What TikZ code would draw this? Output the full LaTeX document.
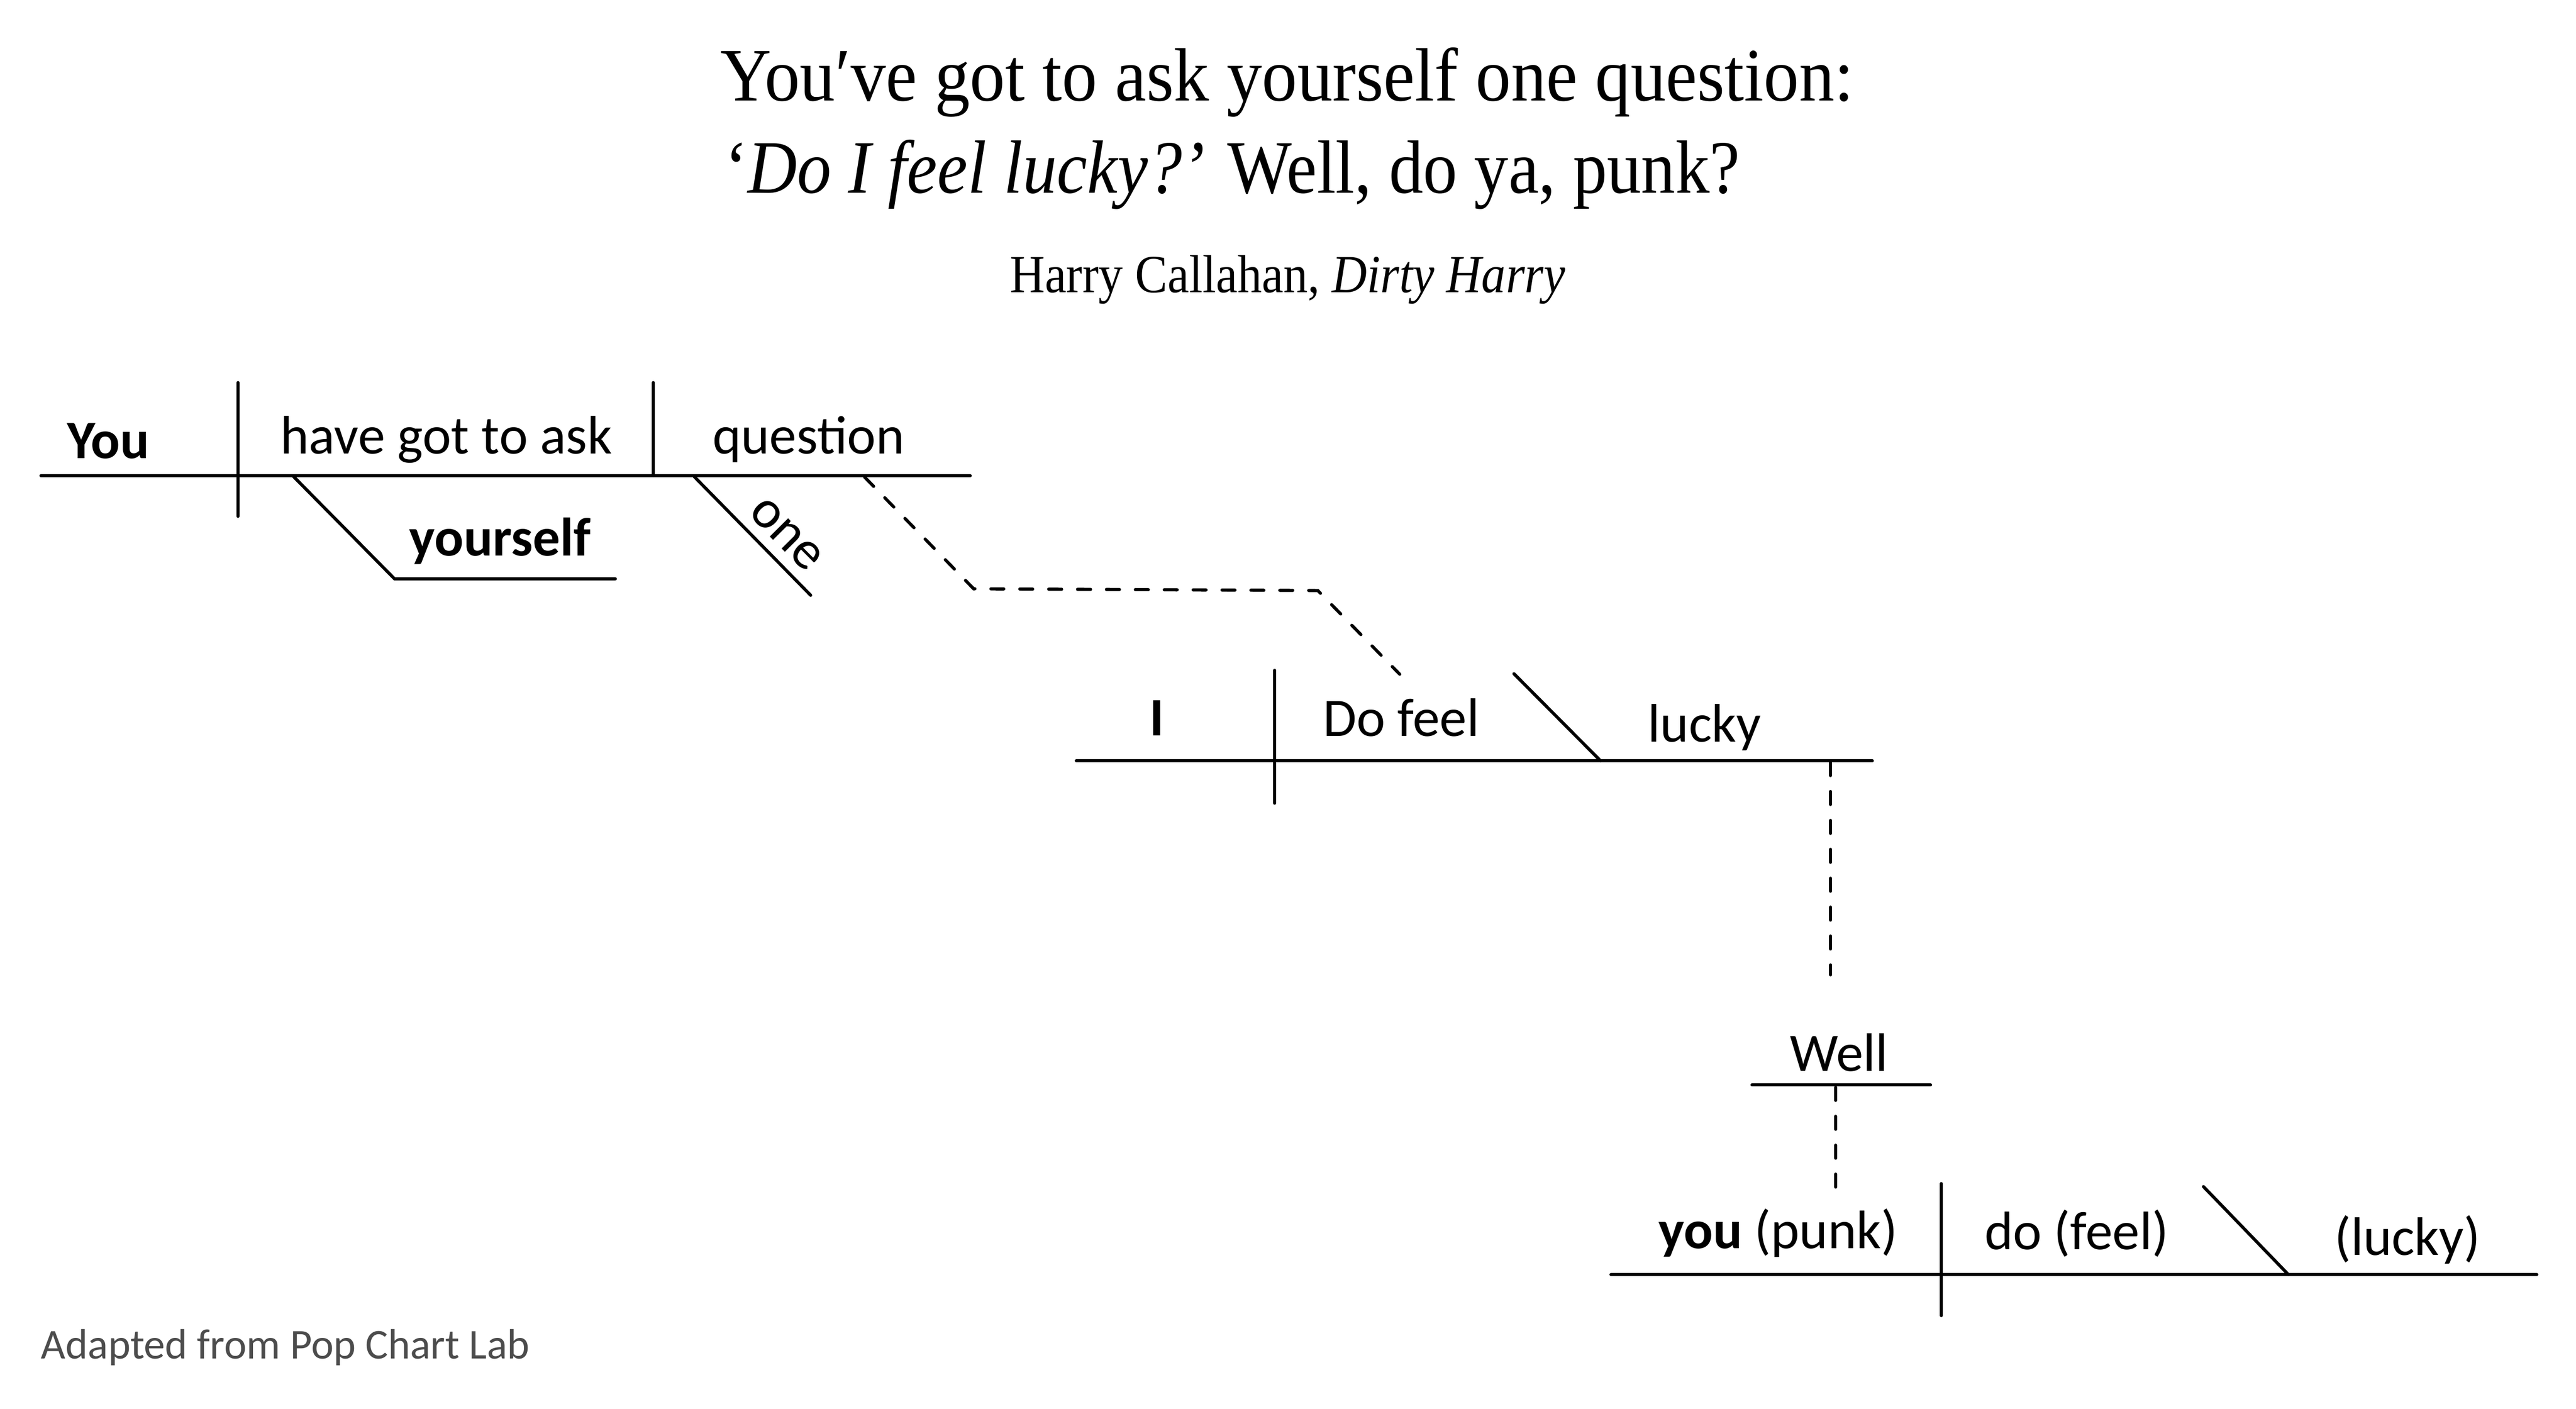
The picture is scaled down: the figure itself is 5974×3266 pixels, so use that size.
\documentclass[tikz,border=0pt]{standalone}
\usepackage{fontspec}
\newfontfamily\titlefontA{Liberation Serif}[FakeStretch=0.935]
\newfontfamily\titlefontB{Liberation Serif}[FakeStretch=0.905]
\newfontfamily\lblfont{Carlito}
\begin{document}
\begin{tikzpicture}[x=0.05mm,y=-0.05mm,
  rule/.style={draw, line width=0.365mm, line cap=round},
  dashline/.style={rule, dash pattern=on 1.5mm off 1.85mm},
  lbl/.style={inner sep=0, anchor=base, font=\lblfont\fontsize{17.9pt}{20pt}\selectfont},
  ttla/.style={inner sep=0, font=\titlefontA\fontsize{24.9pt}{28pt}\selectfont},
  ttlb/.style={inner sep=0, font=\titlefontB\fontsize{24.9pt}{28pt}\selectfont},
  ttlsmall/.style={inner sep=0, font=\titlefontB\fontsize{17.7pt}{20pt}\selectfont},
  foot/.style={inner sep=0, text=black!70, font=\lblfont\fontsize{14.0pt}{16pt}\selectfont}]
\fill[white] (0,0) rectangle (5974,3266);
\useasboundingbox (0,0) rectangle (5974,3266);

% ---------- title ----------
\node[ttla, anchor=base west] (t1) at (1670,234) {You′ve got to ask yourself one question:};
\node[ttlb, anchor=base west] (t2) at (1680,447) {‘\textit{Do I feel lucky?’} Well, do ya, punk?};
\node[ttlsmall, anchor=base] (t3) at (2986,678) {Harry Callahan, \textit{Dirty Harry}};

% ---------- clause 1 ----------
\coordinate (b1s) at (95,1103);
\coordinate (b1e) at (2250,1103);
\coordinate (d1t) at (552,887);
\coordinate (d1b) at (552,1197);
\coordinate (d2t) at (1515,887);
\coordinate (d2b) at (1515,1103);
\coordinate (ys) at (679,1103);
\coordinate (yk) at (915,1342);
\coordinate (ye) at (1427,1342);
\coordinate (os) at (1610,1105);
\coordinate (oe) at (1880,1380);
\draw[rule] (b1s) -- (b1e);
\draw[rule] (d1t) -- (d1b);
\draw[rule] (d2t) -- (d2b);
\draw[rule] (ys) -- (yk) -- (ye);
\draw[rule] (os) -- (oe);
\node[lbl] (tYou) at (251,1063) {\bfseries You};
\node[lbl] (tHave) at (1035,1052) {have got to ask};
\node[lbl] (tQuestion) at (1875,1052) {question};
\node[lbl] (tYourself) at (1160,1289) {\bfseries yourself};
\node[lbl, rotate=-45.2] (tOne) at (1802,1260) {one};

% ---------- dashed link 1 ----------
\coordinate (q1) at (2005,1106);
\coordinate (q2) at (2258,1365);
\coordinate (q3) at (3056,1369);
\coordinate (q4) at (3246,1563);
\draw[dashline] (q1) -- (q2) -- (q3) -- (q4);

% ---------- clause 2 ----------
\coordinate (b2s) at (2496,1764);
\coordinate (b2e) at (4342,1764);
\coordinate (d3t) at (2956,1554);
\coordinate (d3b) at (2956,1862);
\coordinate (s2t) at (3511,1562);
\coordinate (s2b) at (3712,1764);
\draw[rule] (b2s) -- (b2e);
\draw[rule] (d3t) -- (d3b);
\draw[rule] (s2t) -- (s2b);
\node[lbl] (tI) at (2683,1706) {\bfseries I};
\node[lbl] (tDoFeel) at (3250,1707) {Do feel};
\node[lbl] (tLucky) at (3953,1720) {lucky};

% ---------- dashed link 2 ----------
\coordinate (v1t) at (4245,1768);
\coordinate (v1b) at (4245,2260);
\draw[dashline] (v1t) -- (v1b);

% ---------- Well ----------
\coordinate (wls) at (4063,2515);
\coordinate (wle) at (4477,2515);
\draw[rule] (wls) -- (wle);
\node[lbl] (tWell) at (4265,2483) {Well};
\coordinate (v2t) at (4257,2521);
\coordinate (v2b) at (4257,2759);
\draw[dashline] (v2t) -- (v2b);

% ---------- clause 3 ----------
\coordinate (b3s) at (3736,2955);
\coordinate (b3e) at (5883,2955);
\coordinate (d4t) at (4502,2744);
\coordinate (d4b) at (4502,3050);
\coordinate (s3t) at (5110,2751);
\coordinate (s3b) at (5307,2955);
\draw[rule] (b3s) -- (b3e);
\draw[rule] (d4t) -- (d4b);
\draw[rule] (s3t) -- (s3b);
\node[lbl] (tYouPunk) at (4124,2894) {\textbf{you} (punk)};
\node[lbl] (tDoFeel2) at (4816,2897) {do (feel)};
\node[lbl] (tLucky2) at (5583,2910) {(lucky)};

% ---------- footer ----------
\node[foot, anchor=base west] (tFoot) at (94,3150) {Adapted from Pop Chart Lab};
\end{tikzpicture}
\end{document}
